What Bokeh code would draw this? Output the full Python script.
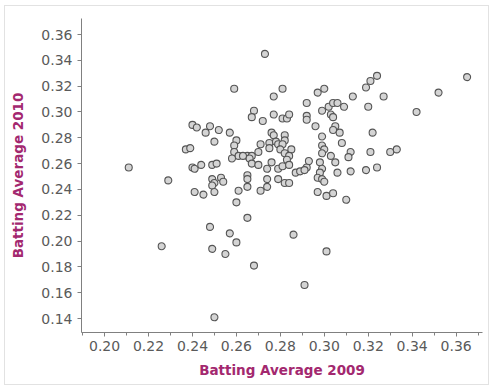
from bokeh.plotting import figure
from bokeh.models import Range1d, FixedTicker, ColumnDataSource, CustomJSTickFormatter
from bokeh.embed import file_html
from bokeh.resources import INLINE

avg_2009 = [
    0.273, 0.259, 0.277, 0.281, 0.292, 0.297, 0.300, 0.313, 0.319, 0.321,
    0.324, 0.327, 0.320, 0.342, 0.352, 0.365, 0.268, 0.267, 0.272, 0.277,
    0.281, 0.283, 0.284, 0.292, 0.292, 0.299, 0.302, 0.304, 0.306, 0.309,
    0.303, 0.304, 0.305, 0.296, 0.240, 0.242, 0.248, 0.252, 0.246, 0.257,
    0.304, 0.307, 0.322, 0.276, 0.277, 0.282, 0.282, 0.299, 0.308, 0.250,
    0.260, 0.259, 0.259, 0.271, 0.275, 0.278, 0.279, 0.281, 0.275, 0.280,
    0.285, 0.282, 0.284, 0.283, 0.299, 0.300, 0.299, 0.303, 0.312, 0.311,
    0.321, 0.330, 0.333, 0.237, 0.239, 0.261, 0.265, 0.267, 0.270, 0.266,
    0.258, 0.263, 0.267, 0.270, 0.274, 0.276, 0.279, 0.281, 0.284, 0.287,
    0.289, 0.292, 0.293, 0.298, 0.299, 0.298, 0.305, 0.306, 0.312, 0.319,
    0.324, 0.291, 0.211, 0.240, 0.241, 0.244, 0.249, 0.251, 0.229, 0.249,
    0.250, 0.253, 0.254, 0.249, 0.250, 0.265, 0.265, 0.265, 0.261, 0.274,
    0.274, 0.271, 0.279, 0.282, 0.284, 0.297, 0.299, 0.300, 0.297, 0.301,
    0.304, 0.310, 0.241, 0.245, 0.260, 0.265, 0.248, 0.257, 0.260, 0.286,
    0.226, 0.249, 0.255, 0.301, 0.268, 0.291, 0.250,
]
avg_2010 = [
    0.345, 0.318, 0.312, 0.318, 0.307, 0.315, 0.318, 0.312, 0.319, 0.324,
    0.328, 0.312, 0.304, 0.300, 0.315, 0.327, 0.301, 0.296, 0.293, 0.298,
    0.295, 0.295, 0.298, 0.297, 0.294, 0.301, 0.304, 0.307, 0.307, 0.304,
    0.298, 0.296, 0.289, 0.289, 0.290, 0.288, 0.289, 0.286, 0.284, 0.284,
    0.286, 0.284, 0.284, 0.284, 0.282, 0.282, 0.278, 0.281, 0.276, 0.277,
    0.278, 0.274, 0.269, 0.275, 0.276, 0.277, 0.275, 0.275, 0.272, 0.271,
    0.271, 0.268, 0.266, 0.263, 0.274, 0.271, 0.268, 0.266, 0.269, 0.265,
    0.269, 0.269, 0.271, 0.271, 0.272, 0.266, 0.266, 0.266, 0.269, 0.264,
    0.264, 0.266, 0.260, 0.259, 0.256, 0.261, 0.256, 0.258, 0.259, 0.253,
    0.254, 0.257, 0.262, 0.261, 0.256, 0.253, 0.261, 0.253, 0.254, 0.255,
    0.257, 0.255, 0.257, 0.257, 0.256, 0.259, 0.259, 0.260, 0.247, 0.248,
    0.245, 0.249, 0.246, 0.243, 0.238, 0.251, 0.248, 0.242, 0.239, 0.248,
    0.242, 0.239, 0.248, 0.245, 0.245, 0.249, 0.248, 0.246, 0.238, 0.235,
    0.237, 0.232, 0.238, 0.236, 0.230, 0.218, 0.211, 0.206, 0.199, 0.205,
    0.196, 0.194, 0.190, 0.192, 0.181, 0.166, 0.141,
]

x_ticks = [0.20, 0.22, 0.24, 0.26, 0.28, 0.30, 0.32, 0.34, 0.36]
x_minor = [0.19, 0.20, 0.21, 0.22, 0.23, 0.24, 0.25, 0.26, 0.27, 0.28,
           0.29, 0.30, 0.31, 0.32, 0.33, 0.34, 0.35, 0.36, 0.37]
y_ticks = [0.14, 0.16, 0.18, 0.20, 0.22, 0.24, 0.26, 0.28, 0.30, 0.32, 0.34, 0.36]

x_title = "Batting Average 2009"
y_title = "Batting Average 2010"

src = ColumnDataSource(dict(x=avg_2009, y=avg_2010))

p = figure(width=485, height=380, output_backend="svg", toolbar_location=None,
           x_range=Range1d(0.1895, 0.372), y_range=Range1d(0.1292, 0.3724),
           min_border_left=76, min_border_right=8, min_border_top=12,
           min_border_bottom=54)
p.styles = {"border": "1px solid #e2e2e2", "margin-left": "4px", "margin-top": "5px"}

p.scatter("x", "y", source=src, size=7, marker="circle",
          fill_color="#d4d4d4", line_color="#555555", line_width=1.1)

p.grid.visible = False
p.outline_line_color = None

font = "DejaVu Sans"
label_color = "#a3286f"
tick_color = "#5a5a5a"
axis_color = "#808080"

fmt = CustomJSTickFormatter(code="return tick.toFixed(2);")
p.xaxis.ticker = FixedTicker(ticks=x_ticks, minor_ticks=x_minor)
p.yaxis.ticker = FixedTicker(ticks=y_ticks)
for ax in (p.xaxis[0], p.yaxis[0]):
    ax.formatter = fmt
    ax.axis_line_color = axis_color
    ax.major_tick_line_color = axis_color
    ax.minor_tick_line_color = axis_color
    ax.major_tick_out = 4
    ax.major_tick_in = 0
    ax.minor_tick_out = 3
    ax.minor_tick_in = 0
    ax.major_label_text_font = font
    ax.major_label_text_font_size = "14px"
    ax.major_label_text_color = tick_color
    ax.axis_label_text_font = font
    ax.axis_label_text_font_size = "13.5px"
    ax.axis_label_text_font_style = "bold"
    ax.axis_label_text_color = label_color
p.yaxis.minor_tick_line_color = None
p.xaxis.major_label_standoff = 4
p.yaxis.major_label_standoff = 5
p.xaxis.axis_label = x_title
p.yaxis.axis_label = y_title
p.xaxis.axis_label_standoff = 8
p.yaxis.axis_label_standoff = 12

open("out.html", "w").write(file_html(p, INLINE))
